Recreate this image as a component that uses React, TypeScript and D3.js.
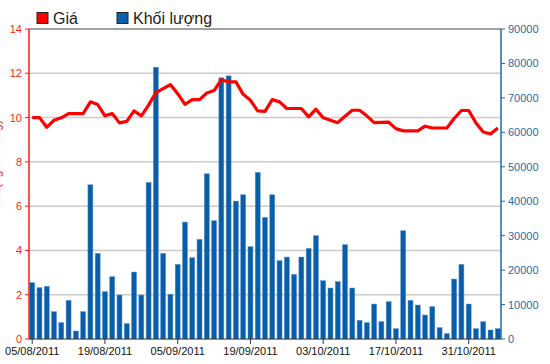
import React from "react";
import * as d3 from "d3";

const dates: string[] = [
  "05/08/2011","08/08/2011","09/08/2011","10/08/2011","11/08/2011","12/08/2011",
  "15/08/2011","16/08/2011","17/08/2011","18/08/2011","19/08/2011",
  "22/08/2011","23/08/2011","24/08/2011","25/08/2011","26/08/2011",
  "29/08/2011","30/08/2011","31/08/2011","01/09/2011","05/09/2011",
  "06/09/2011","07/09/2011","08/09/2011","09/09/2011",
  "12/09/2011","13/09/2011","14/09/2011","15/09/2011","16/09/2011","19/09/2011",
  "20/09/2011","21/09/2011","22/09/2011","23/09/2011",
  "26/09/2011","27/09/2011","28/09/2011","29/09/2011","30/09/2011","03/10/2011",
  "04/10/2011","05/10/2011","06/10/2011","07/10/2011",
  "10/10/2011","11/10/2011","12/10/2011","13/10/2011","14/10/2011","17/10/2011",
  "18/10/2011","19/10/2011","20/10/2011","21/10/2011",
  "24/10/2011","25/10/2011","26/10/2011","27/10/2011","28/10/2011","31/10/2011",
  "01/11/2011","02/11/2011","03/11/2011","04/11/2011",
];

const prices: number[] = [
  10.0, 10.0, 9.56, 9.88, 9.99, 10.18, 10.18, 10.18, 10.71, 10.59,
  10.08, 10.18, 9.76, 9.83, 10.3, 10.08, 10.56, 11.13, 11.31, 11.49,
  11.08, 10.6, 10.81, 10.81, 11.11, 11.22, 11.71, 11.61, 11.61, 11.05,
  10.78, 10.3, 10.28, 10.81, 10.71, 10.41, 10.41, 10.41, 10.03, 10.38,
  9.99, 9.88, 9.77, 10.06, 10.33, 10.33, 10.08, 9.77, 9.78, 9.79,
  9.5, 9.4, 9.4, 9.4, 9.61, 9.53, 9.53, 9.53, 9.96, 10.32,
  10.32, 9.76, 9.35, 9.26, 9.53,
];

const volumes: number[] = [
  16340, 14890, 15280, 7930, 4740, 11220, 2320, 7930, 44770, 24850,
  13730, 18080, 12760, 4450, 19440, 12760, 45450, 78900, 24850, 12960,
  21660, 33940, 23600, 28910, 47960, 34330, 75810, 76390, 40030, 41870,
  26790, 48350, 35300, 41870, 22720, 23790, 18760, 23790, 26300, 29980,
  16920, 14800, 16630, 27370, 14800, 5420, 4740, 10150, 5030, 10830,
  3000, 31430, 11220, 9860, 6960, 9380, 3290, 1550, 17410, 21660,
  10150, 3000, 5030, 2610, 3000,
];

const xTickLabels: string[] = [
  "05/08/2011", "19/08/2011", "05/09/2011", "19/09/2011",
  "03/10/2011", "17/10/2011", "31/10/2011",
];
const leftTicks: number[] = [0, 2, 4, 6, 8, 10, 12, 14];
const rightTicks: number[] = [0, 10000, 20000, 30000, 40000, 50000, 60000, 70000, 80000, 90000];

const W = 550;
const H = 364;
const L = 29;
const R = 501;
const T = 29;
const B = 339;
const RED = "#ff1a1a";
const BLUE = "#1f6aa5";
const BAR = "#0a5ea8";
const FONT = "'Liberation Sans', Arial, sans-serif";

export default function App() {
  const x = d3.scaleBand<string>().domain(dates).range([L, R]).paddingInner(0.32).paddingOuter(0.1);
  const yL = d3.scaleLinear().domain([0, 14]).range([B, T]);
  const yR = d3.scaleLinear().domain([0, 90000]).range([B, T]);
  const cx = (d: string) => (x(d) as number) + x.bandwidth() / 2;

  const line = d3
    .line<number>()
    .x((_, i) => cx(dates[i]))
    .y((p) => yL(p));

  return (
    <svg
      width={W}
      height={H}
      style={{ position: "absolute", left: 0, top: 0, background: "#fff" }}
      fontFamily={FONT}
    >
      {/* legend */}
      <rect x={37} y={12.5} width={11} height={11} fill="#ff0000" stroke="#222" strokeWidth={1} />
      <text x={53} y={24} fontSize={16} fill="#222">Giá</text>
      <rect x={117} y={12.5} width={11} height={11} fill="#0b62a8" stroke="#222" strokeWidth={1} />
      <text x={133} y={24} fontSize={16} fill="#222">Khối lượng</text>

      {/* left rotated title (mostly outside the picture, as in the reference) */}
      <text
        transform={`translate(0,165) rotate(-90)`}
        textAnchor="middle"
        fontSize={12}
        fill={RED}
      >
        Giá (nghìn đồng)
      </text>

      {/* grid lines */}
      {leftTicks
        .filter((t) => t > 0 && t < 14)
        .map((t) => (
          <line key={"g" + t} x1={L} x2={R} y1={yL(t)} y2={yL(t)} stroke="#cccccc" strokeWidth={1.5} />
        ))}
      {/* top border */}
      <line x1={L} x2={R} y1={T} y2={T} stroke="#444" strokeWidth={1} />

      {/* bars */}
      {volumes.map((v, i) => (
        <rect
          key={"b" + i}
          x={x(dates[i]) as number}
          y={yR(v)}
          width={x.bandwidth()}
          height={B - yR(v)}
          fill={BAR}
          stroke="#4d92d0"
          strokeWidth={0.5}
        />
      ))}

      {/* price line */}
      <path d={line(prices) || ""} fill="none" stroke="#ff0000" strokeWidth={3.2} strokeLinejoin="round" />

      {/* bottom axis */}
      <line x1={L} x2={R} y1={B} y2={B} stroke="#333" strokeWidth={1} />
      {xTickLabels.map((d) => (
        <g key={"x" + d}>
          <line x1={cx(d)} x2={cx(d)} y1={B} y2={B + 5} stroke="#333" />
          <text x={cx(d)} y={355} textAnchor="middle" fontSize={11} fill="#111">
            {d}
          </text>
        </g>
      ))}

      {/* left axis */}
      <line x1={L} x2={L} y1={T} y2={B} stroke={RED} strokeWidth={1.5} />
      {leftTicks.map((t) => (
        <g key={"l" + t}>
          <line x1={L - 4} x2={L} y1={yL(t)} y2={yL(t)} stroke={RED} />
          <text x={22} y={yL(t) + 4} textAnchor="end" fontSize={11} fill={RED}>
            {t}
          </text>
        </g>
      ))}

      {/* right axis */}
      <line x1={R} x2={R} y1={T} y2={B} stroke={BLUE} strokeWidth={1.5} />
      {rightTicks.map((t) => (
        <g key={"r" + t}>
          <line x1={R} x2={R + 4} y1={yR(t)} y2={yR(t)} stroke={BLUE} />
          <text x={508} y={yR(t) + 4} textAnchor="start" fontSize={11} fill={BLUE}>
            {t}
          </text>
        </g>
      ))}
    </svg>
  );
}
